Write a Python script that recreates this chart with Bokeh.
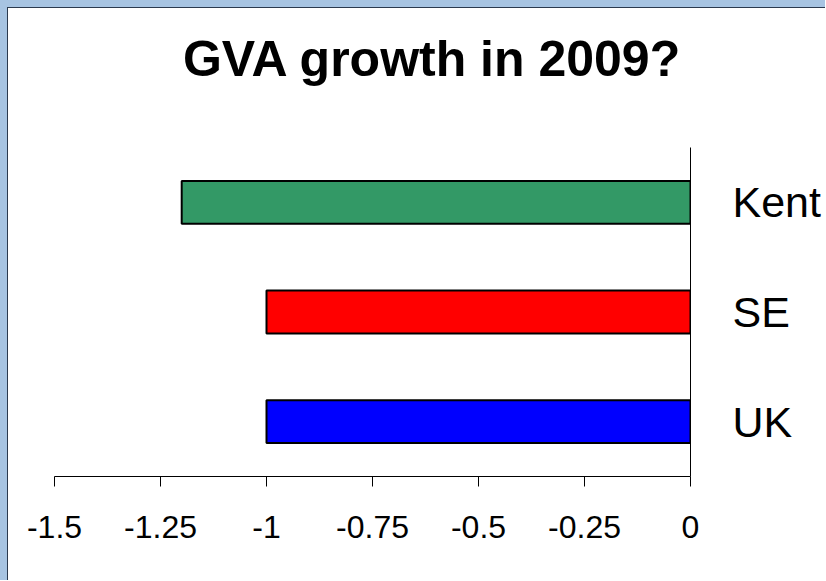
from bokeh.plotting import figure
from bokeh.models import FactorRange, FixedTicker, LinearAxis, CategoricalAxis
from bokeh.layouts import column
from bokeh.embed import file_html
from bokeh.resources import INLINE

# GVA growth in 2009 by area
areas = ["UK", "SE", "Kent"]
growth = [-1.0, -1.0, -1.2]
bar_colors = ["#0000ff", "#ff0000", "#339966"]
tick_values = [-1.5, -1.25, -1.0, -0.75, -0.5, -0.25, 0.0]
tick_labels = ["-1.5", "-1.25", "-1", "-0.75", "-0.5", "-0.25", "0"]
title_text = "GVA growth in 2009?"

FONT = "Liberation Sans"
EDGE = "1px solid #2b3a4e"

# heading strip, in pixel-sized data units over the same frame width
head = figure(width=818, height=140, x_range=(0, 636), y_range=(0, 140),
              output_backend="svg", toolbar_location=None,
              min_border_left=46, min_border_right=136,
              min_border_top=0, min_border_bottom=0)
head.axis.visible = False
head.grid.visible = False
head.outline_line_color = None
head.background_fill_color = None
head.border_fill_color = None
head.text(x=[378], y=[90], text=[title_text], text_font_size="50px",
          text_font_style="bold", text_color="#000000",
          text_align="center", text_baseline="middle",
          text_font={"value": FONT})
head.styles = {"border-top": EDGE, "border-left": EDGE,
               "background-color": "#ffffff"}

p = figure(
    width=818, height=433,
    y_range=FactorRange(*areas),
    x_range=(-1.5, 0.0),
    output_backend="svg", toolbar_location=None,
    x_axis_location=None, y_axis_location=None,
    min_border_left=46, min_border_right=136,
    min_border_top=0, min_border_bottom=104,
)
p.styles = {"border-left": EDGE, "background-color": "#ffffff"}

p.hbar(y=areas, left=0, right=growth, height=0.39,
       fill_color=bar_colors, line_color="#000000", line_width=2)

xaxis = LinearAxis(ticker=FixedTicker(ticks=tick_values))
xaxis.major_label_overrides = {v: s for v, s in zip(tick_values, tick_labels)}
xaxis.major_label_text_font = FONT
xaxis.major_label_text_font_size = "32px"
xaxis.major_label_text_color = "#000000"
xaxis.major_label_standoff = 29
xaxis.major_tick_in = 0
xaxis.major_tick_out = 10
xaxis.minor_tick_line_color = None
xaxis.axis_line_color = "#000000"
xaxis.major_tick_line_color = "#000000"
p.add_layout(xaxis, "below")

yaxis = CategoricalAxis()
yaxis.major_label_text_font = FONT
yaxis.major_label_text_font_size = "43px"
yaxis.major_label_text_color = "#000000"
yaxis.major_label_standoff = 42
yaxis.major_tick_in = 0
yaxis.major_tick_out = 0
yaxis.axis_line_color = "#000000"
p.add_layout(yaxis, "right")

p.xgrid.visible = False
p.ygrid.visible = False
p.outline_line_color = None
p.background_fill_color = None
p.border_fill_color = None

page = column(head, p, spacing=0,
              styles={"background-color": "#a7c4e2",
                      "padding-top": "7px", "padding-left": "7px"})

open("out.html", "w").write(file_html(page, INLINE))
